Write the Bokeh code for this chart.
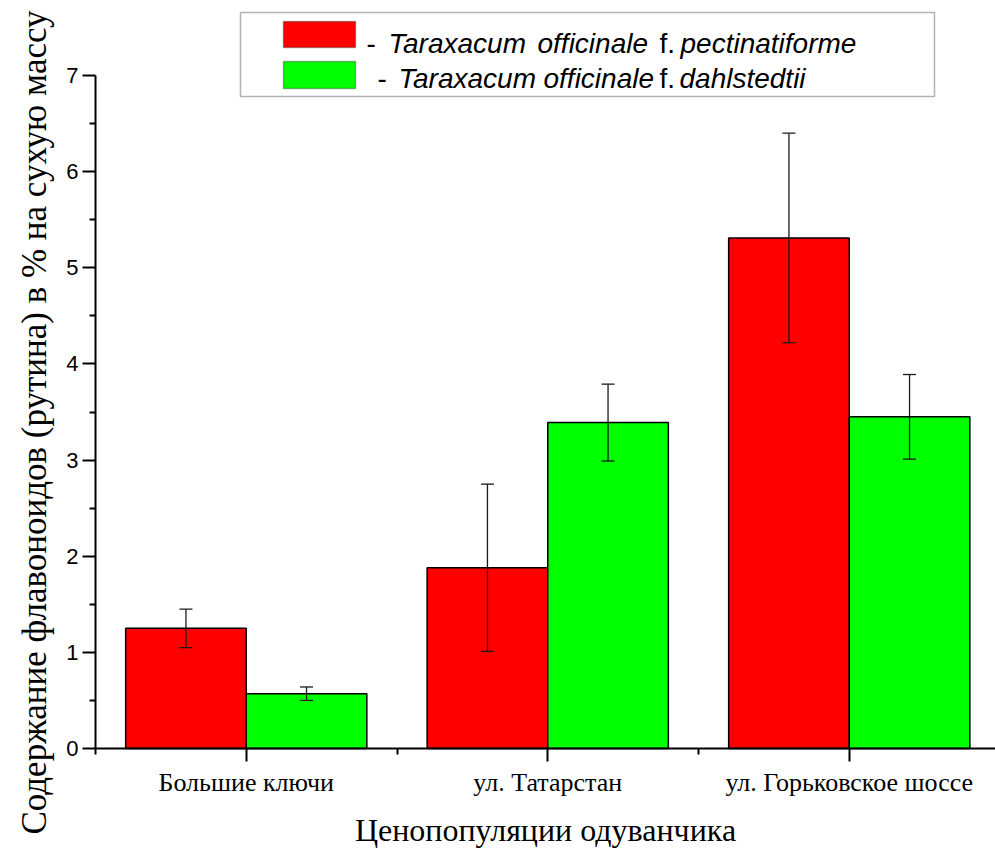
import math
from bokeh.plotting import figure
from bokeh.models import (FixedTicker, ColumnDataSource, Whisker, TeeHead,
                          BoxAnnotation, Label, Range1d)
from bokeh.embed import file_html
from bokeh.resources import INLINE

# ---------------- data ----------------
categories = ["Большие ключи", "ул. Татарстан", "ул. Горьковское шоссе"]
pect_values = [1.25, 1.88, 5.31]
pect_errors = [0.20, 0.87, 1.09]
dahl_values = [0.57, 3.39, 3.45]
dahl_errors = [0.07, 0.40, 0.44]
y_ticks = [0, 1, 2, 3, 4, 5, 6, 7]
y_minor = [0.5, 1.5, 2.5, 3.5, 4.5, 5.5, 6.5]
x_title = "Ценопопуляции одуванчика"
y_title = "Содержание флавоноидов (рутина) в % на сухую массу"

# ---------------- layout constants ----------------
W, H = 995, 850
SX, SY = 301.5, 96.14          # px per data unit
AX_PX, AY_PX = 95, 748          # canvas px of x=0.5 and y=0
X0 = 0.5 - AX_PX / SX
X1 = 0.5 + (W - AX_PX) / SX
Y1 = AY_PX / SY
Y0 = -(H - AY_PX) / SY

def X(px):   # canvas px -> data x
    return X0 + px / SX

def Y(py):   # canvas px -> data y
    return Y1 - py / SY

p = figure(width=W, height=H, output_backend="svg", toolbar_location=None,
           x_range=Range1d(X0, X1), y_range=Range1d(Y0, Y1),
           min_border_left=0, min_border_right=0,
           min_border_top=0, min_border_bottom=0)
p.outline_line_color = None
p.xgrid.visible = False
p.ygrid.visible = False
p.background_fill_color = "white"
p.border_fill_color = "white"

pos = [i + 1 for i in range(len(categories))]
red_x = [c - 0.2 for c in pos]
green_x = [c + 0.2 for c in pos]

red_src = ColumnDataSource(dict(x=red_x, top=pect_values,
                                upper=[v + e for v, e in zip(pect_values, pect_errors)],
                                lower=[v - e for v, e in zip(pect_values, pect_errors)]))
green_src = ColumnDataSource(dict(x=green_x, top=dahl_values,
                                  upper=[v + e for v, e in zip(dahl_values, dahl_errors)],
                                  lower=[v - e for v, e in zip(dahl_values, dahl_errors)]))

p.vbar(x="x", top="top", bottom=0, width=0.4, source=red_src,
       fill_color="#ff0000", line_color="black", line_width=1.5)
p.vbar(x="x", top="top", bottom=0, width=0.4, source=green_src,
       fill_color="#00ff00", line_color="black", line_width=1.5)

for src in (red_src, green_src):
    w = Whisker(base="x", upper="upper", lower="lower", source=src,
                line_color="#1a1a1a", line_width=1.3, level="annotation",
                upper_head=TeeHead(size=13, line_width=1.3, line_color="#1a1a1a"),
                lower_head=TeeHead(size=13, line_width=1.3, line_color="#1a1a1a"))
    p.add_layout(w)

# ---------------- axes (drawn at fixed locations inside the frame) ----------------
xa = p.xaxis[0]
xa.fixed_location = 0
xa.bounds = (0.5, X1)
xa.ticker = FixedTicker(ticks=pos, minor_ticks=[0.5, 1.5, 2.5, 3.5])
xa.major_label_overrides = {c: name for c, name in zip(pos, categories)}
xa.axis_label = x_title
ya = p.yaxis[0]
ya.fixed_location = 0.5
ya.ticker = FixedTicker(ticks=y_ticks, minor_ticks=y_minor)
ya.bounds = (0, 7)

for ax in (xa, ya):
    ax.axis_line_width = 2
    ax.axis_line_color = "black"
    ax.major_tick_line_width = 2
    ax.minor_tick_line_width = 2
    ax.major_tick_line_color = "black"
    ax.minor_tick_line_color = "black"
    ax.major_tick_in = 0
    ax.major_tick_out = 13
    ax.minor_tick_in = 0
    ax.minor_tick_out = 6
    ax.major_label_text_color = "black"

xa.axis_label_text_font = "Liberation Serif"
xa.axis_label_text_font_style = "normal"
xa.axis_label_text_color = "black"
xa.axis_label_text_font_size = "32px"
xa.major_label_text_font = "Liberation Serif"
xa.major_label_text_font_size = "26px"
xa.major_label_standoff = 6
xa.axis_label_standoff = 12
ya.major_label_text_font = "Liberation Sans"
ya.major_label_text_font_size = "22px"
ya.major_label_standoff = 4

# y-axis title
p.add_layout(Label(x=X(34), y=Y(422), text=y_title, angle=math.pi / 2,
                   text_font="Liberation Serif", text_font_size="35px",
                   text_font_style="normal", text_color="black",
                   text_align="center", text_baseline="alphabetic",
                   level="annotation"))

# ---------------- legend (custom, mixed italic) ----------------
p.add_layout(BoxAnnotation(left=X(240), right=X(934), top=Y(12), bottom=Y(96),
                           fill_color="white", fill_alpha=1.0,
                           line_color="black", line_width=1.5, level="annotation"))
p.add_layout(BoxAnnotation(left=X(283), right=X(355), top=Y(21), bottom=Y(47),
                           fill_color="#ff0000", fill_alpha=1.0,
                           line_color="black", line_width=1.5, level="annotation"))
p.add_layout(BoxAnnotation(left=X(283), right=X(355), top=Y(61), bottom=Y(88),
                           fill_color="#00ff00", fill_alpha=1.0,
                           line_color="black", line_width=1.5, level="annotation"))

def lab(px, py, text, style):
    p.add_layout(Label(x=X(px), y=Y(py), text=text, text_font="Liberation Sans",
                       text_font_style=style, text_font_size="28px",
                       text_color="black", text_align="left",
                       text_baseline="alphabetic", level="annotation"))

lab(366, 43, "-", "normal")
lab(388, 43, "Taraxacum", "italic")
lab(537, 43, "officinale", "italic")
lab(659, 43, "f.", "normal")
lab(680, 43, "pectinatiforme", "italic")
lab(377, 78, "-", "normal")
lab(398, 78, "Taraxacum", "italic")
lab(543, 78, "officinale", "italic")
lab(659, 78, "f.", "normal")
lab(679, 78, "dahlstedtii", "italic")

open("out.html", "w").write(file_html(p, INLINE))
